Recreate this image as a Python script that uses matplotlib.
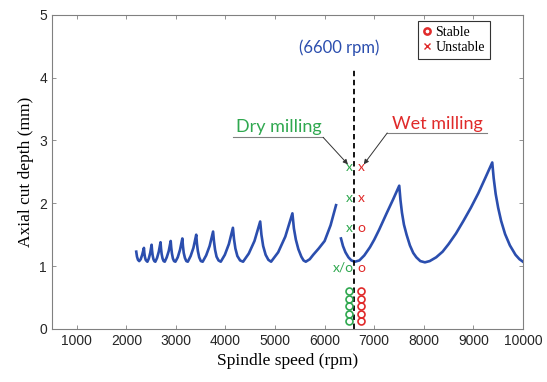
import numpy as np
import matplotlib.pyplot as plt

# stability lobe, left part (rpm, axial depth mm)
left_rpm = [2200, 2215, 2235, 2260, 2290, 2320, 2355,
            2363, 2374, 2390, 2410, 2425, 2453, 2482, 2510,
            2519, 2531, 2547, 2565, 2585, 2620, 2655, 2690,
            2700, 2713, 2731, 2752, 2775, 2815, 2855, 2895,
            2905, 2920, 2940, 2963, 2990, 3037, 3083, 3130,
            3142, 3158, 3182, 3210, 3240, 3297, 3353, 3410,
            3424, 3443, 3470, 3503, 3540, 3610, 3680, 3750,
            3767, 3790, 3820, 3860, 3905, 3987, 4068, 4150,
            4172, 4200, 4240, 4295, 4355, 4470, 4585, 4700,
            4725, 4760, 4810, 4865, 4920, 5063, 5207, 5350,
            5380, 5420, 5470, 5530, 5575, 5620, 5700, 5770, 5880, 6000, 6120, 6230]
left_depth = [1.23, 1.15, 1.10, 1.08, 1.11, 1.18, 1.29,
              1.21, 1.15, 1.10, 1.08, 1.07, 1.12, 1.21, 1.34,
              1.25, 1.17, 1.11, 1.08, 1.07, 1.13, 1.23, 1.38,
              1.28, 1.19, 1.12, 1.08, 1.07, 1.14, 1.24, 1.40,
              1.30, 1.20, 1.12, 1.08, 1.07, 1.14, 1.26, 1.44,
              1.32, 1.21, 1.13, 1.08, 1.07, 1.16, 1.29, 1.50,
              1.36, 1.24, 1.14, 1.08, 1.07, 1.17, 1.32, 1.55,
              1.40, 1.26, 1.15, 1.09, 1.07, 1.18, 1.35, 1.61,
              1.43, 1.28, 1.16, 1.09, 1.07, 1.20, 1.40, 1.71,
              1.50, 1.32, 1.18, 1.10, 1.07, 1.22, 1.47, 1.84,
              1.60, 1.42, 1.27, 1.15, 1.09, 1.07, 1.11, 1.18, 1.28, 1.40, 1.65, 1.97]

# stability lobe, right part
right_rpm = [6330, 6370, 6420, 6480, 6540, 6611, 6700, 6800, 6914, 7000,
             7100, 7250, 7380, 7505,
             7530, 7560, 7600, 7653, 7720, 7787, 7850, 7930, 8023,
             8120, 8250, 8380, 8500, 8650, 8800, 8950, 9100, 9250, 9381,
             9410, 9450, 9500, 9560, 9640, 9737, 9850, 9930, 10000]
right_depth = [1.44, 1.32, 1.22, 1.14, 1.09, 1.07, 1.09, 1.17, 1.30, 1.42,
               1.58, 1.84, 2.06, 2.28,
               2.05, 1.85, 1.66, 1.50, 1.33, 1.21, 1.14, 1.08, 1.06,
               1.08, 1.14, 1.23, 1.35, 1.52, 1.72, 1.93, 2.16, 2.42, 2.65,
               2.40, 2.15, 1.93, 1.72, 1.51, 1.33, 1.18, 1.11, 1.07]

# test points: dry (green) and wet (red)
dry_rpm = 6500
wet_rpm = 6740
text_rows = [2.58, 2.09, 1.60, 0.97]
dry_labels = ['x', 'x', 'x', 'x/o']
wet_labels = ['x', 'x', 'o', 'o']
stable_depths = [0.12, 0.24, 0.36, 0.48, 0.60]

blue = '#2b4eae'
green = '#2fa84f'
red = '#e02a2a'
gray = '#808080'

fig = plt.figure(figsize=(5.47, 3.82), dpi=100)
ax = fig.add_axes([0.095, 0.139, 0.861, 0.822])

ax.plot(left_rpm, left_depth, color=blue, lw=1.9)
ax.plot(right_rpm, right_depth, color=blue, lw=1.9)

ax.plot([6600, 6600], [0, 4.15], color='black', lw=1.3, ls=(0, (3, 2)))
ax.text(6300, 4.47, '(6600 rpm)', color=blue, ha='center', va='center',
        fontsize=12, family='Lato')

for y, d, w in zip(text_rows, dry_labels, wet_labels):
    ax.text(dry_rpm if d == 'x' else 6370, y, d, color=green, ha='center',
            va='center', fontsize=10, family='Lato')
    ax.text(wet_rpm, y, w, color=red, ha='center', va='center',
            fontsize=10, family='Lato')

ax.plot([dry_rpm] * 5, stable_depths, 'o', mfc='none', mec=green, ms=5, mew=1.2)
ax.plot([wet_rpm] * 5, stable_depths, 'o', mfc='none', mec=red, ms=5, mew=1.2)

# Dry / Wet milling callouts
ax.text(5080, 3.21, 'Dry milling', color=green, ha='center', va='center',
        fontsize=13, family='Lato')
ax.plot([4150, 5970], [3.05, 3.05], color=gray, lw=0.8)
ax.annotate('', xy=(6470, 2.62), xytext=(5970, 3.05),
            arrowprops=dict(arrowstyle='-|>', color='#333333', lw=0.7,
                            mutation_scale=7, shrinkA=0, shrinkB=0))
ax.text(8270, 3.27, 'Wet milling', color=red, ha='center', va='center',
        fontsize=13, family='Lato')
ax.plot([7263, 9270], [3.12, 3.12], color=gray, lw=0.8)
ax.annotate('', xy=(6790, 2.62), xytext=(7263, 3.12),
            arrowprops=dict(arrowstyle='-|>', color='#333333', lw=0.7,
                            mutation_scale=7, shrinkA=0, shrinkB=0))

# legend
h1, = ax.plot([], [], 'o', mfc='none', mec=red, mew=1.8, ms=4.5)
h2, = ax.plot([], [], 'x', color=red, mew=1.0, ms=5)
leg = ax.legend([h1, h2], ['Stable', 'Unstable'], loc='upper right',
                bbox_to_anchor=(0.93, 0.981), borderaxespad=0,
                fancybox=False, framealpha=1,
                edgecolor='#333333', handlelength=0.6, handletextpad=0.3,
                borderpad=0.35, labelspacing=0.15,
                prop={'family': 'Liberation Serif', 'size': 10})
leg.get_frame().set_linewidth(0.8)

ax.set_xlim(500, 10000)
ax.set_ylim(0, 5)
ax.set_xticks(np.arange(1000, 10001, 1000))
ax.set_yticks(np.arange(0, 6, 1))
ax.tick_params(direction='in', top=True, right=True, length=3, width=0.6,
               color=gray, labelsize=10, labelcolor='#262626')
for lab in ax.get_xticklabels() + ax.get_yticklabels():
    lab.set_family('Liberation Sans')
for s in ax.spines.values():
    s.set_color(gray)
    s.set_linewidth(0.8)

ax.set_xlabel('Spindle speed (rpm)', family='Liberation Serif', fontsize=12.5)
ax.set_ylabel('Axial cut depth (mm)', family='Liberation Serif', fontsize=12.5)

fig.savefig('out.png', dpi=100)
